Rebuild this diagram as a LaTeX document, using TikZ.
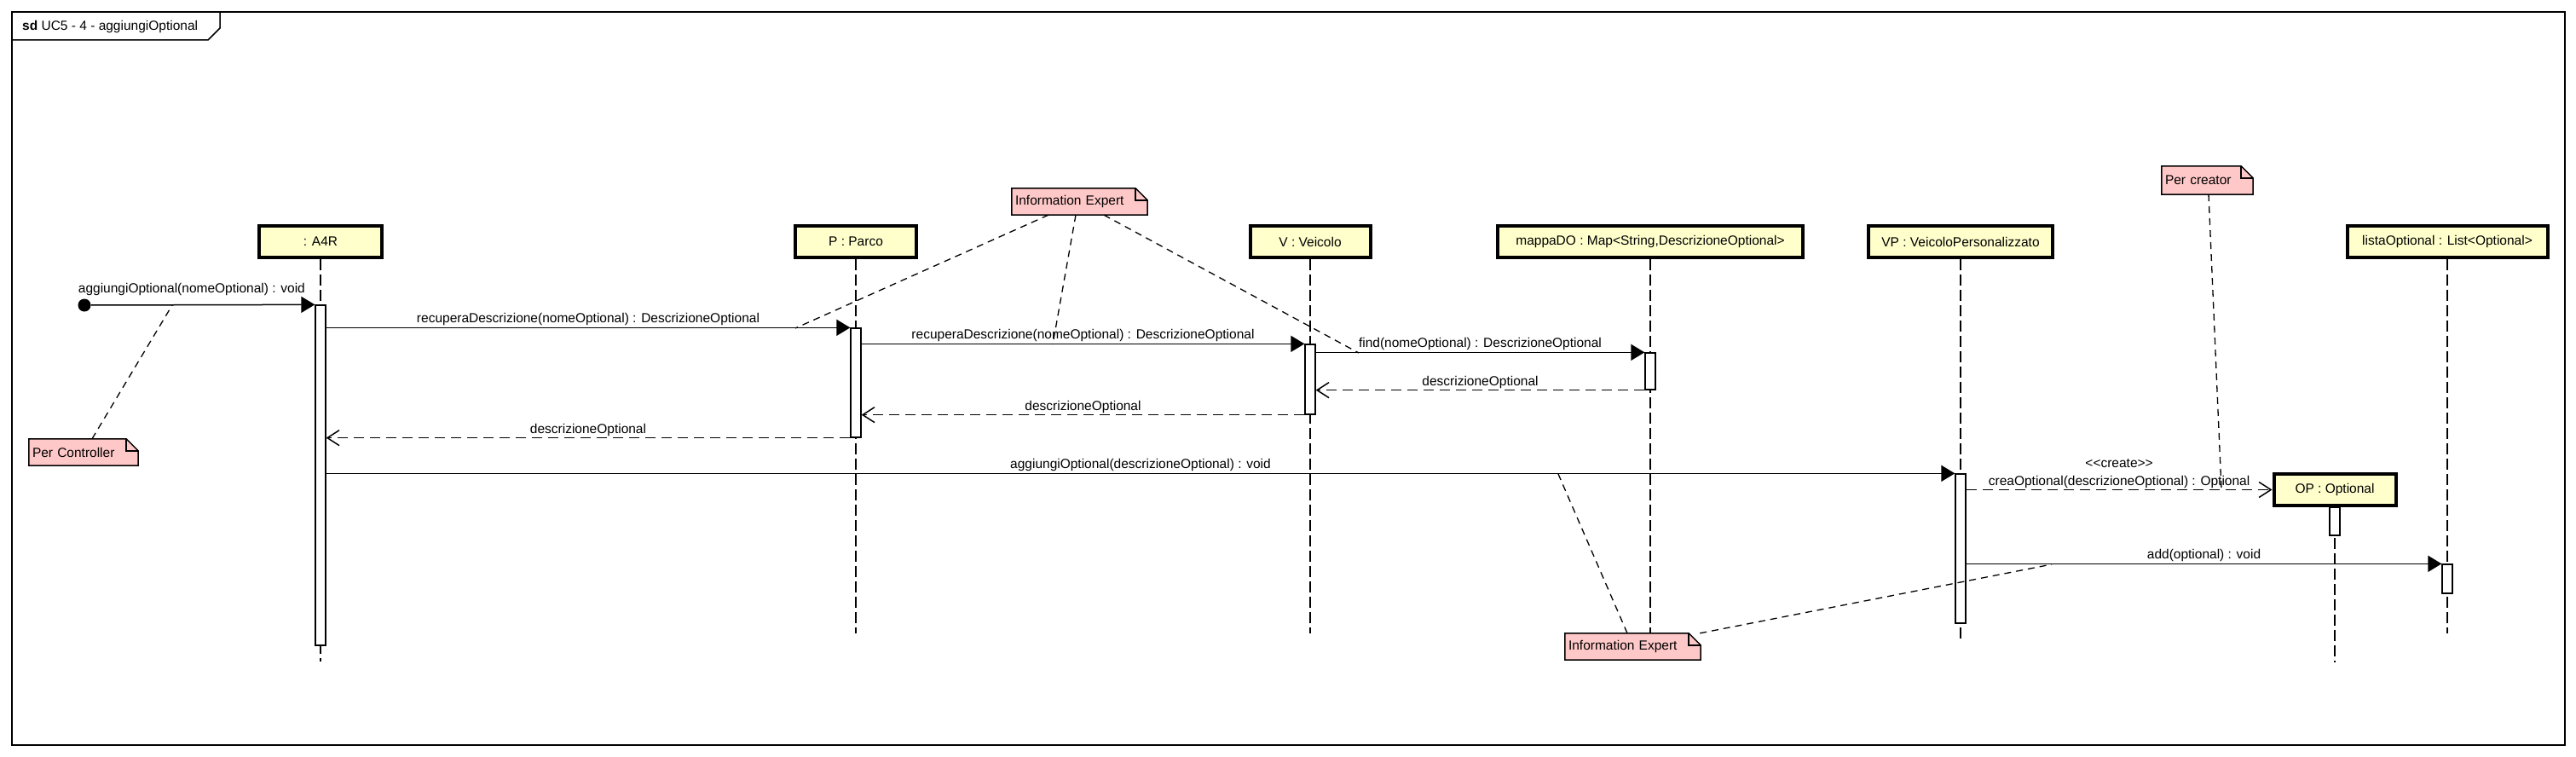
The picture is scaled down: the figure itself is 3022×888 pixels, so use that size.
\documentclass[tikz,border=0pt]{standalone}
\usepackage{fontspec}
\setmainfont{Liberation Sans}
\usetikzlibrary{arrows.meta,calc,backgrounds}
\definecolor{lifey}{RGB}{255,255,204}
\definecolor{notepink}{RGB}{255,200,200}
\newcommand\notefold[1]{%
  \filldraw[fill=notepink, draw=black, line width=1.5pt] (#1.south west) -- (#1.north west) -- ([xshift=-14pt]#1.north east) -- ([yshift=-14pt]#1.north east) -- (#1.south east) -- cycle;
  \draw[line width=1.5pt] ([xshift=-14pt]#1.north east) |- ([yshift=-14pt]#1.north east);}
\begin{document}
\begin{tikzpicture}[x=1pt,y=-1pt,
  every node/.style={font=\fontsize{15.5}{18}\selectfont},
  lifebox/.style={draw=black, line width=4pt, fill=lifey, minimum height=37pt, inner sep=0pt},
  actbar/.style={draw=black, line width=1.3pt, fill=white, minimum width=12pt, inner sep=0pt},
  lifeline/.style={draw=black, line width=1.3pt, dash pattern=on 13pt off 5pt},
  msg/.style={draw=black, line width=1.5pt, -{Triangle[length=16pt,width=19pt]}},
  ret/.style={draw=black, line width=1.5pt, dash pattern=on 12pt off 7pt, -{Straight Barb[length=14pt,width=18pt,line width=1.5pt]}},
  lbl/.style={inner sep=1.5pt},
  notebox/.style={inner xsep=4pt, inner ysep=0pt, align=left},
  notelink/.style={draw=black, line width=1.3pt, dash pattern=on 8pt off 6pt},
  dot/.style={circle, fill=black, minimum size=15pt, inner sep=0pt}
]
\useasboundingbox (0,0) rectangle (3022,888);
% frame
\draw[line width=1.5pt] (14,14) rectangle (3009,874);
\draw[line width=1.5pt] (14,47) -- (244,47) -- (258,33) -- (258,14);
\node[anchor=west, inner sep=0pt] (title) at (26,31) {\textbf{sd} UC5 - 4 - aggiungiOptional};

% lifeline heads
\node[lifebox, minimum width=144pt] (a4r) at (376,283.5) {: A4R};
\node[lifebox, minimum width=142pt] (parco) at (1004,283.5) {P : Parco};
\node[lifebox, minimum width=141pt] (veic) at (1537,283.5) {V : Veicolo};
\node[lifebox, minimum width=358pt] (mappa) at (1936,283.5) {mappaDO : Map<String,DescrizioneOptional>};
\node[lifebox, minimum width=216pt] (vp) at (2300,283.5) {VP : VeicoloPersonalizzato};
\node[lifebox, minimum width=235pt] (lista) at (2871,283.5) {listaOptional : List<Optional>};
\node[lifebox, minimum width=143pt] (op) at (2739,574.5) {OP : Optional};

% lifeline ends
\coordinate (eA) at (376,776);
\coordinate (eP) at (1004,743);
\coordinate (eV) at (1537,743);
\coordinate (eM) at (1936,743);
\coordinate (eVP) at (2300,751);
\coordinate (eOP) at (2739,777);
\coordinate (eL) at (2871,743);

\draw[lifeline] (a4r.south) -- (eA);
\draw[lifeline] (parco.south) -- (eP);
\draw[lifeline] (veic.south) -- (eV);
\draw[lifeline] (mappa.south) -- (eM);
\draw[lifeline] (vp.south) -- (eVP);
\draw[lifeline] (op.south) -- (eOP);
\draw[lifeline] (lista.south) -- (eL);

% activations
\node[actbar, minimum height=399pt] (aA) at (376,557.5) {};
\node[actbar, minimum height=128pt] (aP) at (1004,449) {};
\node[actbar, minimum height=82pt] (aV) at (1537,445) {};
\node[actbar, minimum height=43pt] (aM) at (1936,435.5) {};
\node[actbar, minimum height=175pt] (aVP) at (2300,643.5) {};
\node[actbar, minimum height=33pt] (aOP) at (2739,611.5) {};
\node[actbar, minimum height=34pt] (aL) at (2871,679) {};

% start dot
\node[dot] (start) at (99,358) {};

% messages
\draw[msg] (start) -- (aA.north west) node[lbl, pos=0.45, above=9pt] {aggiungiOptional(nomeOptional) : void};
\draw[msg] (aA.east |- aP.north) -- (aP.north west) node[lbl, midway, above] {recuperaDescrizione(nomeOptional) : DescrizioneOptional};
\draw[msg] (aP.east |- aV.north) -- (aV.north west) node[lbl, midway, above] {recuperaDescrizione(nomeOptional) : DescrizioneOptional};
\draw[msg] (aV.east |- aM.north) -- (aM.north west) node[lbl, midway, above] {find(nomeOptional) : DescrizioneOptional};
\draw[ret] (aM.south west) -- (aV.east |- aM.south) node[lbl, midway, above] {descrizioneOptional};
\draw[ret] (aV.south west) -- (aP.east |- aV.south) node[lbl, midway, above] {descrizioneOptional};
\draw[ret] (aP.south west) -- (aA.east |- aP.south) node[lbl, midway, above] {descrizioneOptional};
\draw[msg] (aA.east |- aVP.north) -- (aVP.north west) node[lbl, midway, above] {aggiungiOptional(descrizioneOptional) : void};
\draw[ret] (aVP.east |- op.west) -- (op.west)
  node[lbl, midway, above] {creaOptional(descrizioneOptional) : Optional}
  node[lbl, midway, above=24pt] {<{}<create>{}>};
\draw[msg] (aVP.east |- aL.north) -- (aL.north west) node[lbl, midway, above] {add(optional) : void};

% notes
\node[notebox, minimum height=31pt, text width=120pt] (nc) at (98,530.5) {Per Controller};
\node[notebox, minimum height=31pt, text width=151pt] (ie1) at (1266.5,236.5) {Information Expert};
\node[notebox, minimum height=33pt, text width=99pt] (pc) at (2589.5,211.5) {Per creator};
\node[notebox, minimum height=31pt, text width=151pt] (ie2) at (1915.5,758.5) {Information Expert};
\begin{pgfonlayer}{background}
\notefold{nc}
\notefold{ie1}
\notefold{pc}
\notefold{ie2}
\end{pgfonlayer}

% note link anchors on messages
\coordinate (c0) at (202,358);
\coordinate (c1) at (933,385);
\coordinate (c2) at (1235,404);
\coordinate (c3) at (1594,414);
\coordinate (c4) at (2606,574);
\coordinate (c5) at (1828,556);
\coordinate (c6) at (2407,662);

\draw[notelink] ([xshift=10pt]nc.north) -- (c0);
\draw[notelink] ([xshift=-36.5pt]ie1.south) -- (c1);
\draw[notelink] ([xshift=-4.5pt]ie1.south) -- (c2);
\draw[notelink] ([xshift=28.5pt]ie1.south) -- (c3);
\draw[notelink] ([xshift=1.5pt]pc.south) -- (c4);
\draw[notelink] ([xshift=-6.5pt]ie2.north) -- (c5);
\draw[notelink] ([xshift=-1pt]ie2.north east) -- (c6);
\end{tikzpicture}
\end{document}
